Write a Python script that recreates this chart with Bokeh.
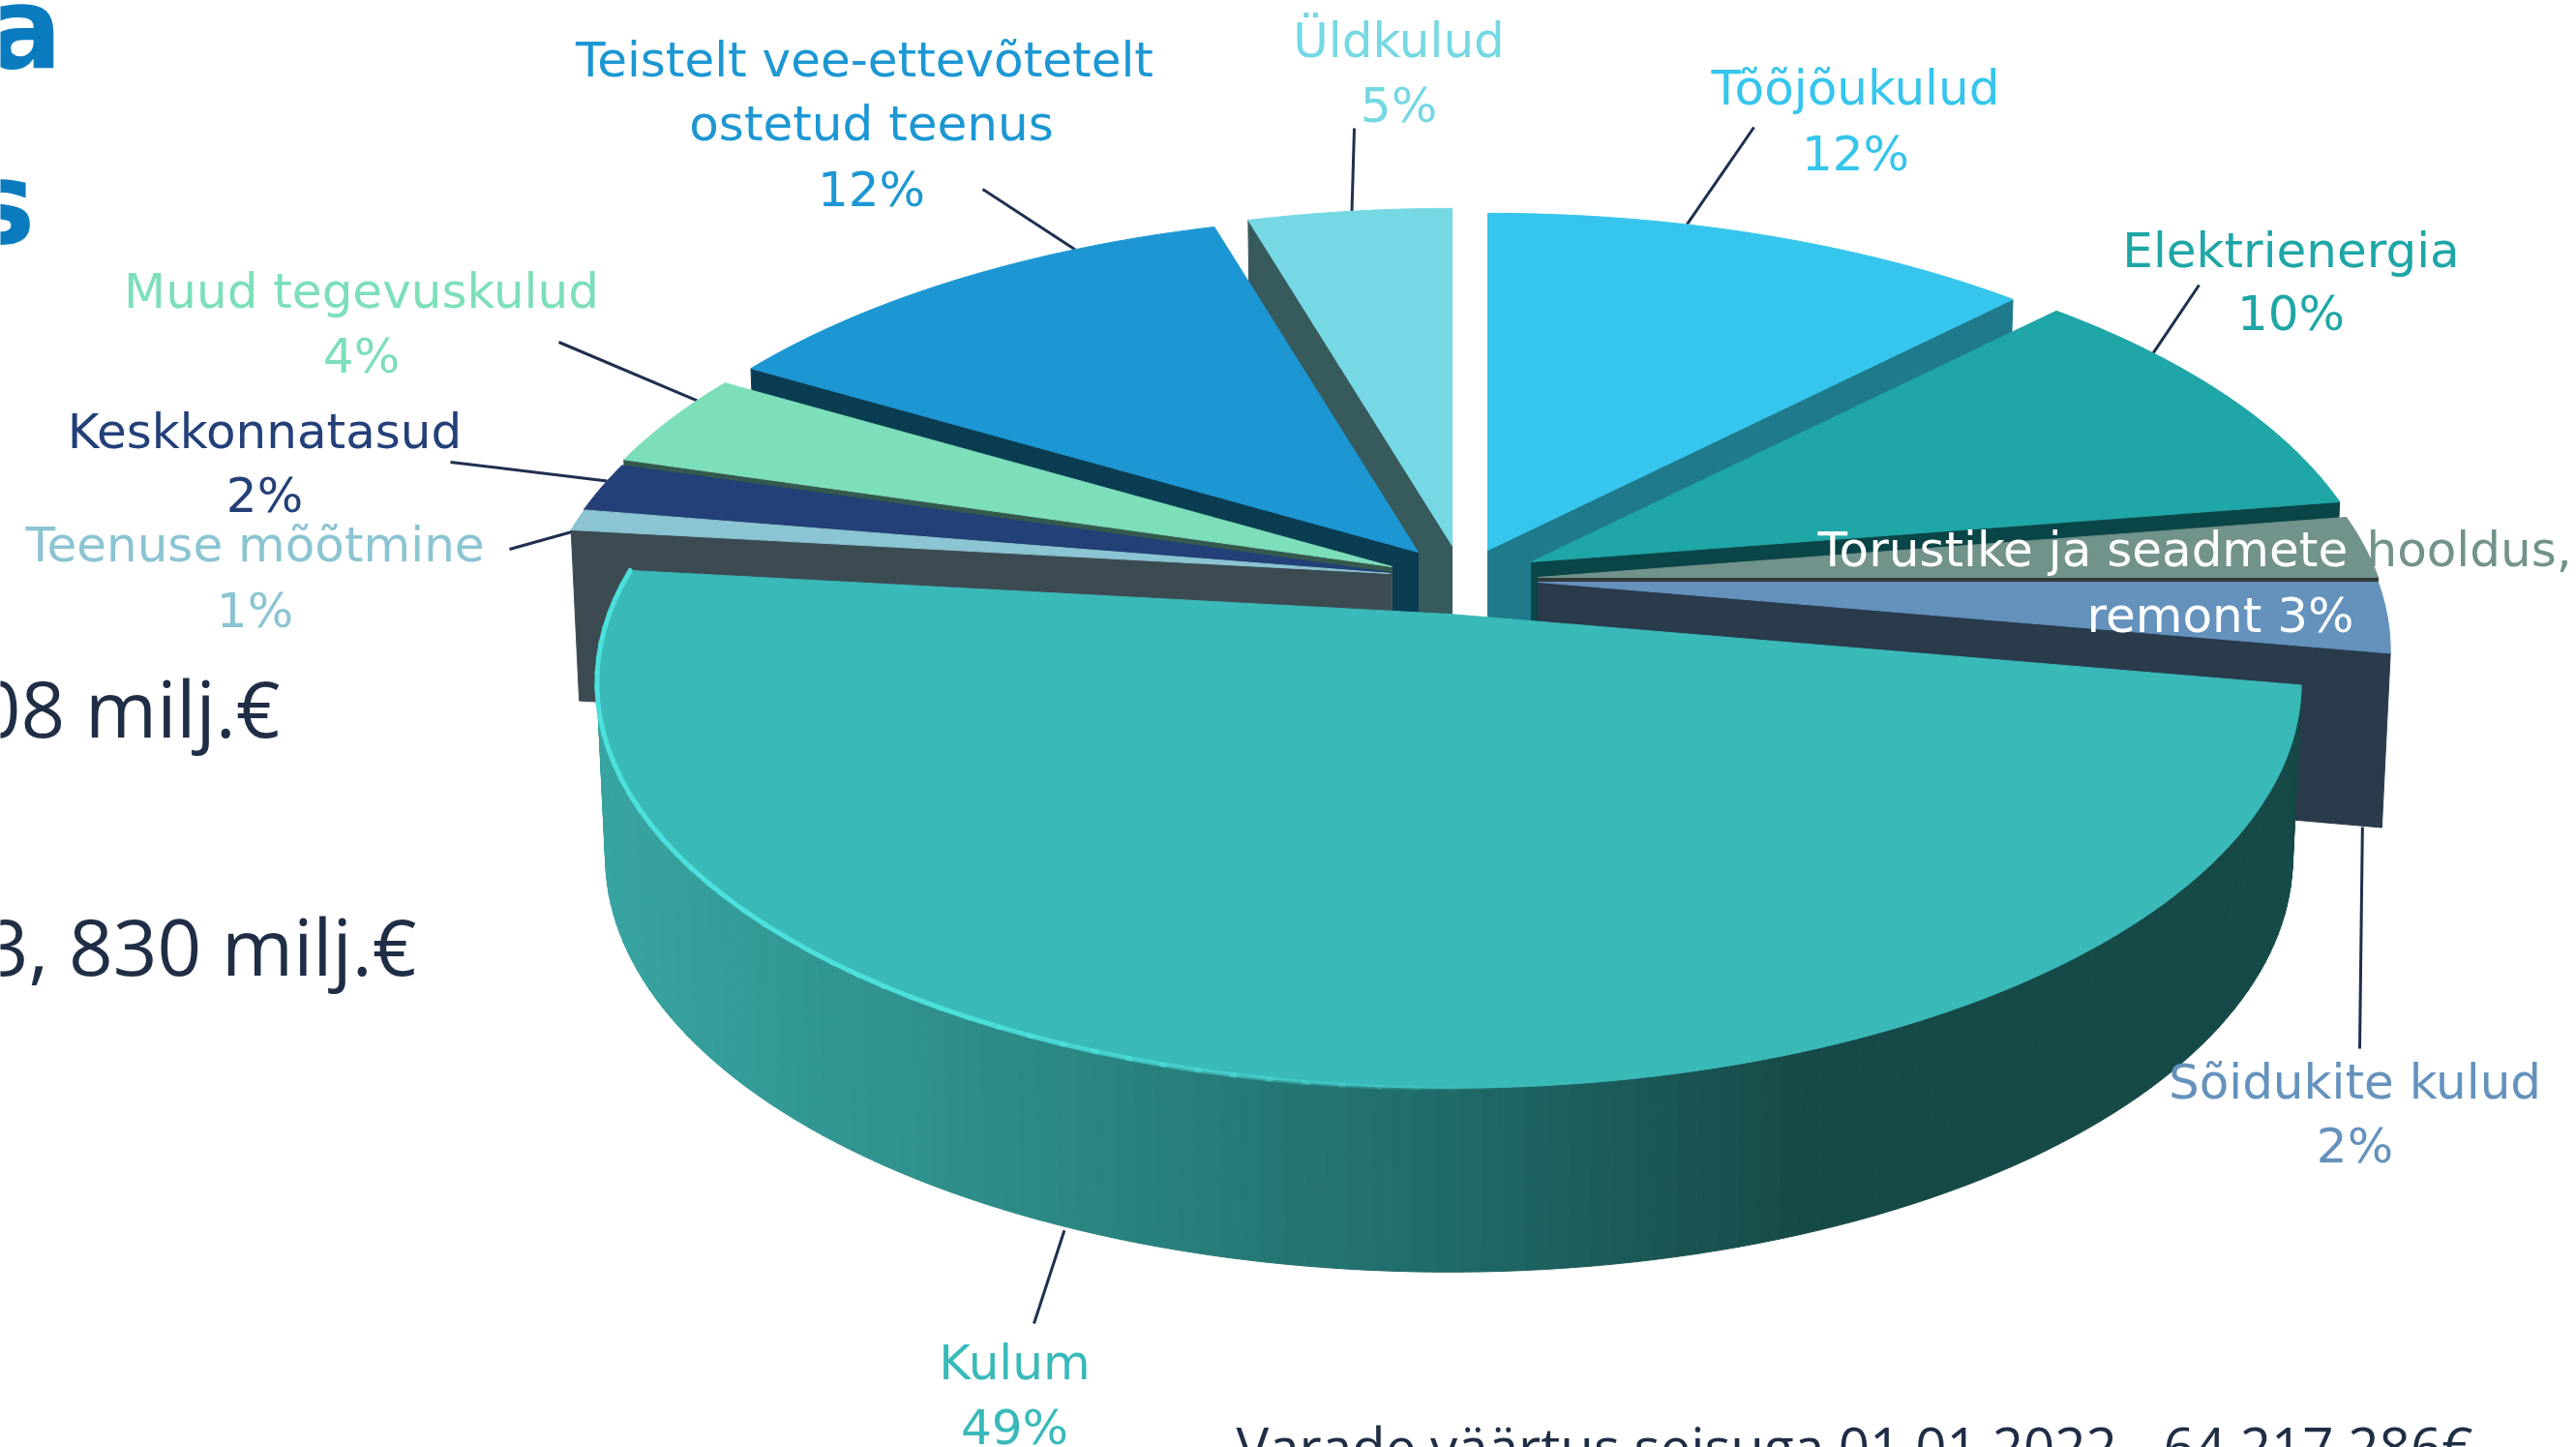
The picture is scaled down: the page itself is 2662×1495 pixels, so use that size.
import math
from bokeh.plotting import figure
from bokeh.embed import file_html
from bokeh.resources import INLINE
from bokeh.core.properties import value

# ---- data (clockwise from 12 o'clock) ----
names = ["Tõõjõukulud", "Elektrienergia", "Torustike", "Sõidukite kulud", "Kulum",
         "Teenuse mõõtmine", "Keskkonnatasud", "Muud tegevuskulud", "Teistelt", "Üldkulud"]
shares = [12.35, 10.15, 2.5, 2.8, 49, 0.85, 1.95, 3.85, 12.0, 4.55]
top_colors = ["#36c5ec", "#1fa6a6", "#72928c", "#6492bc", "#3ab9b9",
              "#8bc4d2", "#234079", "#7cdfb9", "#1c97d3", "#75d8e3"]
wall_colors = ["#1f7a8c", "#0a4547", "#333a3a", "#2a3b4b", "#164a48",
               "#3c4b52", "#0c1a35", "#35594c", "#0a3d52", "#375a5c"]
# ---- layout ----
apex = [(1537, 568), (1582, 580), (1589, 596), (1589, 601), (1497, 634),
        (1436, 592), (1436, 591), (1438, 585), (1465, 570), (1500, 563)]
A, B, K, DEPTH, SHRINK = 868.0, 407.0, 0.169, 178.0, 0.99
W, H = 2662, 1495
BLUE, INK, LEAD = "#0a7bbf", "#1f2d45", "#1f2f4f"
LABEL_FONT = "DejaVu Sans"
SIDE_STOPS = [(600, "#38a5a1"), (1059, "#2c8a86"), (1484, "#206b69"), (1863, "#164a48"), (2500, "#164a48")]

def proj(i, t, h=False):
    r = math.radians(t)
    s = 1 / (1 + K * math.cos(r))
    x = A * math.sin(r) * s
    y = -B * math.cos(r) * s
    if h:
        return apex[i][0] + x * SHRINK, apex[i][1] + y + DEPTH - 12 * math.cos(r)
    return apex[i][0] + x, apex[i][1] + y

def hexmix(c1, c2, f):
    a = [int(c1[j:j + 2], 16) for j in (1, 3, 5)]
    b = [int(c2[j:j + 2], 16) for j in (1, 3, 5)]
    return "#%02x%02x%02x" % tuple(round(a[k] + (b[k] - a[k]) * f) for k in range(3))

def side_color(x):
    for (x1, c1), (x2, c2) in zip(SIDE_STOPS, SIDE_STOPS[1:]):
        if x1 <= x <= x2:
            return hexmix(c1, c2, (x - x1) / (x2 - x1))
    return SIDE_STOPS[0][1] if x < SIDE_STOPS[0][0] else SIDE_STOPS[-1][1]

bounds = [0.0]
for v in shares:
    bounds.append(bounds[-1] + v * 3.6)

p = figure(width=W, height=H, x_range=(0, W), y_range=(H, 0), output_backend="svg",
           toolbar_location=None, min_border=0)
p.axis.visible = False
p.grid.visible = False
p.outline_line_color = None
p.background_fill_color = "#ffffff"

def arc(i, t1, t2, h=False):
    n = max(2, int(abs(t2 - t1)))
    return [proj(i, t1 + (t2 - t1) * j / n, h) for j in range(n + 1)]

def poly(pts, color):
    xs = [q[0] for q in pts]
    ys = [q[1] for q in pts]
    p.patch(xs, ys, fill_color=color, line_color=color, line_width=1)

def draw_top(i):
    poly([apex[i]] + arc(i, bounds[i], bounds[i + 1]), top_colors[i])

def draw_wall(i, t):
    q = proj(i, t)
    q2 = proj(i, t, True)
    a0 = apex[i]
    poly([a0, q, q2, (a0[0], a0[1] + DEPTH)], wall_colors[i])

# leader lines: slice, angle on the rim, on lower rim?, nudge, outer end at the label
leaders = [(0, 16.0, False, 0, 0, 1812, 131), (1, 54.4, False, 0, 0, 2272, 294),
           (3, 100.0, True, -20, 0, 2438, 1083), (4, 203.0, True, 0, 4, 1068, 1367),
           (5, 277.5, False, 0, 8, 526, 567), (6, 284.0, False, 0, 0, 465, 477),
           (7, 297.0, False, 0, 0, 577, 353), (8, 332.0, False, 0, 0, 1015, 195),
           (9, 352.0, False, 0, 0, 1399, 132)]
for i, t, h, nx, ny, ex, ey in leaders:
    sx, sy = proj(i, t, h)
    p.line([sx + nx, ex], [sy + ny, ey], line_color=LEAD, line_width=3)

# painter's order, back to front: (slice, angle of the visible cut)
order = [(9, bounds[9]), (0, bounds[1]), (8, bounds[8]), (1, bounds[2]), (7, bounds[7]),
         (2, bounds[3]), (6, bounds[6]), (3, bounds[4]), (5, bounds[5])]
for i, t in order:
    draw_wall(i, t)
    draw_top(i)

# Kulum: outer side in strips, then top and rim light
k = 4
t1, t2 = bounds[4], bounds[5]
n = 140
for j in range(n):
    a = t1 + (t2 - t1) * j / n
    b = t1 + (t2 - t1) * (j + 1) / n
    q1, q2 = proj(k, a), proj(k, b)
    poly([q1, q2, proj(k, b, True), proj(k, a, True)], side_color((q1[0] + q2[0]) / 2))
draw_top(k)
steps = 47
for j in range(steps):
    a = t2 - j * 2.1
    b = a - 2.3
    pts = [proj(k, a), proj(k, b)]
    fade = min(1.0, (steps - j) / 16)
    p.line([q[0] for q in pts], [q[1] for q in pts], line_color="#4be0dc",
           line_width=5, line_alpha=fade, line_cap="round")

# texts
labels = [("Teistelt vee-ettevõtetelt", 893, 61, "#1c97d3", "center"),
          ("ostetud teenus", 900, 127, "#1c97d3", "center"),
          ("12%", 900, 195, "#1c97d3", "center"),
          ("Üldkulud", 1445, 41, "#75d8e3", "center"), ("5%", 1445, 108, "#75d8e3", "center"),
          ("Tõõjõukulud", 1917, 90, "#36c5ec", "center"), ("12%", 1917, 158, "#36c5ec", "center"),
          ("Elektrienergia", 2367, 258, "#1fa6a6", "center"), ("10%", 2367, 323, "#1fa6a6", "center"),
          ("Torustike ja seadmete", 1878, 567, "#ffffff", "left"),
          ("hooldus,", 2445, 567, "#72928c", "left"),
          ("remont 3%", 2156, 635, "#ffffff", "left"),
          ("Sõidukite kulud", 2433, 1117, "#6492bc", "center"), ("2%", 2433, 1183, "#6492bc", "center"),
          ("Kulum", 1048, 1407, "#3ab9b9", "center"), ("49%", 1048, 1474, "#3ab9b9", "center"),
          ("Teenuse mõõtmine", 263, 562, "#8bc4d2", "center"), ("1%", 263, 630, "#8bc4d2", "center"),
          ("Keskkonnatasud", 273, 445, "#234079", "center"), ("2%", 273, 511, "#234079", "center"),
          ("Muud tegevuskulud", 373, 300, "#7cdfb9", "center"), ("4%", 373, 367, "#7cdfb9", "center")]
for s, x, y, c, al in labels:
    p.text([x], [y], text=[s], text_color=c, text_align=al, text_baseline="middle",
           text_font=value(LABEL_FONT), text_font_size="50px")

big = [("a", 64, 29, BLUE, "117px", LABEL_FONT, "bold"), ("s", 36, 210, BLUE, "117px", LABEL_FONT, "bold"),
       ("08 milj.€", 289, 730, INK, "80px", "Open Sans", "normal"),
       ("3, 830 milj.€", 430, 976, INK, "80px", "Open Sans", "normal")]
for s, x, y, c, fs, f, st in big:
    p.text([x], [y], text=[s], text_color=c, text_align="right", text_baseline="middle",
           text_font=value(f), text_font_size=fs, text_font_style=st)
p.text([1277], [1494], text=["Varade väärtus seisuga 01.01.2022 - 64 217 286€"], text_color=INK,
       text_align="left", text_baseline="middle", text_font=value("Open Sans"), text_font_size="56.5px")

open("out.html", "w").write(file_html(p, INLINE))
